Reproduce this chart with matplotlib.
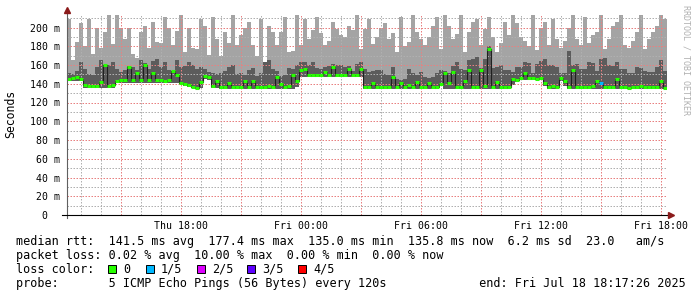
import numpy as np
import pandas as pd
import matplotlib
matplotlib.use("Agg")
import matplotlib.pyplot as plt
import matplotlib.dates as mdates
from matplotlib.patches import Rectangle
from matplotlib.ticker import FixedLocator, MultipleLocator, FuncFormatter

plt.rcParams["font.family"] = "DejaVu Sans Mono"

W, H = 697, 297
START = "2025-07-17 12:17:26"
END = "2025-07-18 18:17:26"

# 12-minute consolidated samples (ms)
MAX_RTT = [
    209, 165, 185, 205, 180, 209, 172, 200, 178, 195, 213, 182, 213, 200, 188, 200, 172, 168, 195,
    202, 178, 206, 185, 184, 211, 200, 181, 196, 213, 174, 200, 178, 177, 209, 202, 171, 211, 188,
    170, 195, 184, 213, 181, 192, 200, 206, 181, 170, 209, 163, 202, 195, 181, 195, 211, 174, 175,
    213, 181, 209, 188, 197, 211, 194, 181, 186, 206, 198, 192, 190, 202, 197, 213, 177, 198,
    209, 182, 190, 200, 205, 188, 194, 174, 211, 180, 185, 213, 195, 188, 181, 190, 202, 211, 177,
    213, 202, 188, 193, 213, 174, 195, 206, 209, 181, 198, 211, 190, 174, 184, 206, 192, 213, 205,
    190, 186, 180, 213, 176, 200, 206, 181, 209, 188, 178, 186, 200, 213, 188, 181, 211, 184, 192,
    195, 213, 177, 188, 202, 206, 213, 181, 178, 186, 195, 213, 177, 188, 195, 202, 213, 209,
]
INNER_HI = [
    152, 150, 154, 163, 156, 150, 149, 158, 165, 160, 160, 163, 156, 153, 155, 159, 158, 155, 165,
    162, 156, 164, 166, 158, 163, 155, 151, 165, 158, 159, 163, 160, 156, 158, 156, 153, 152, 150,
    151, 154, 158, 160, 150, 151, 149, 155, 157, 148, 152, 163, 165, 156, 154, 148, 149, 157, 156,
    160, 163, 163, 160, 163, 157, 156, 158, 159, 161, 160, 160, 158, 159, 154, 161, 163, 156,
    153, 154, 155, 155, 150, 149, 158, 145, 144, 145, 156, 151, 149, 153, 147, 146, 147, 151, 155,
    154, 152, 159, 163, 156, 155, 165, 166, 169, 157, 166, 180, 157, 158, 160, 155, 155, 153, 158,
    158, 163, 162, 151, 161, 164, 166, 160, 160, 158, 151, 151, 175, 160, 161, 156, 156, 163, 162,
    154, 166, 167, 160, 159, 163, 156, 156, 151, 151, 158, 157, 154, 153, 153, 158, 165, 154,
]
MEDIAN = [
    145.5, 146, 147, 145, 139, 138, 137.5, 138, 141.8, 159.6, 138, 138.5, 143, 143.5, 144, 158,
    144, 151, 143.5, 159.9, 144, 151, 143.5, 144, 143, 144, 154, 149, 141, 140, 139, 137, 136, 142,
    148, 147, 138, 143,
    137, 136.5, 141, 137, 136.5, 137, 143, 137, 143, 137, 136.5, 137, 138, 137, 147, 140, 137, 138,
    149, 143, 154.5, 156, 149, 149.5, 149, 149, 152.8, 149, 158, 149.5, 149, 149, 156, 149, 149.5,
    156, 137,
    137, 141, 137, 136.5, 137, 137, 146.8, 137, 141, 137, 139, 137, 142, 137, 136.5, 141, 137, 137,
    140, 151, 141, 152.8, 137, 136.5, 143, 154.5, 137, 137, 154.5, 138, 177.4, 137, 142, 137, 136.5,
    137, 145, 144,
    146, 151, 146, 146.5, 145.5, 146, 141, 137, 137.5, 137, 146, 143, 137, 154.5, 137, 136.5, 137,
    137, 138, 143, 141, 137, 137, 136.5, 145, 137, 137, 135.0, 137, 137, 138, 137, 136.5, 137, 137,
    143, 135.8,
]
MIN_RTT = [
    143, 143, 143, 143, 136, 136, 136, 136, 136, 136, 136, 136, 141, 141, 141, 141, 141, 141, 141,
    141, 141, 141, 141, 141, 141, 141, 141, 141, 139, 138, 137, 135, 134, 135, 145, 144, 135, 135,
    134.5, 134.5, 134.5, 134.5, 134.5, 134.5, 134.5, 134.5, 134.5, 134.5, 134.5, 134.5, 134.5,
    134.5, 134.5, 134.5, 134.5, 134.5, 134.5, 137, 147, 147, 147, 147, 147, 147, 147, 147, 147,
    147, 147, 147, 147, 147, 147, 147, 134.5,
    134.5, 134.5, 134.5, 134.5, 134.5, 134.5, 134.5, 134.5, 134.5, 134.5, 134.5, 134.5, 134.5,
    134.5, 134.5, 134.5, 134.5, 134.5, 138, 134.5, 134.5, 134.5, 134.5, 134.5, 134.5, 134.5, 134.5,
    134.5, 134.5, 134.5, 134.5, 134.5, 134.5, 134.5, 134.5, 134.5, 139, 142,
    144, 144, 144, 144, 144, 144, 138, 134.5, 134.5, 134.5, 143, 138, 134.5, 134.5, 134.5, 134.5,
    134.5, 134.5, 134.5, 134.5, 134.5, 134.5, 134.5, 134.5, 134.5, 134.5, 134.5, 134.5, 134.5,
    134.5, 134.5, 134.5, 134.5, 134.5, 134.5, 134.5, 134.5,
]
LOST = {133: 1}  # sample index -> pings lost

LOSS_LABELS = ["0", "1/5", "2/5", "3/5", "4/5"]
LOSS_COLORS = ["#26ff00", "#00b8ff", "#dd00ff", "#5e00ff", "#ff0000"]
Y_TICKS = [0, 20, 40, 60, 80, 100, 120, 140, 160, 180, 200]

edges = mdates.date2num(pd.date_range(START, END, freq="12min").to_pydatetime())
lo = np.append(MIN_RTT, MIN_RTT[-1])
hi = np.append(MAX_RTT, MAX_RTT[-1])
mid = np.append(INNER_HI, INNER_HI[-1])
med = np.append(MEDIAN, MEDIAN[-1])

fig = plt.figure(figsize=(W / 100, H / 100), dpi=100)
fig.patch.set_facecolor("white")
ax = fig.add_axes([67 / W, 1 - 215 / H, 600 / W, 200 / H])

ax.fill_between(edges, lo, hi, step="post", color="#a4a4a4", lw=0, zorder=1)
ax.fill_between(edges, lo, mid, step="post", color="#5c5c5c", lw=0, zorder=2)
ax.step(edges, med, where="post", color="#202020", lw=0.8, zorder=3)
seg_cols = [LOSS_COLORS[LOST.get(i, 0)] for i in range(len(MEDIAN))]
ax.hlines(MEDIAN, edges[:-1], edges[1:], colors=seg_cols, lw=2.2, zorder=4)

ax.set_xlim(edges[0], edges[-1])
ax.set_ylim(0, 200 / 0.9375)

ax.xaxis.set_major_locator(mdates.HourLocator(byhour=range(0, 24, 3)))
ax.xaxis.set_minor_locator(mdates.HourLocator())


def xfmt(v, pos):
    d = mdates.num2date(v)
    return d.strftime("%a %H:%M") if d.hour % 6 == 0 else ""


ax.xaxis.set_major_formatter(FuncFormatter(xfmt))
ax.yaxis.set_major_locator(FixedLocator(Y_TICKS))
ax.yaxis.set_minor_locator(MultipleLocator(10))
ax.set_yticklabels([f"{t} m" if t else "0  " for t in Y_TICKS])

ax.set_axisbelow(False)
ax.grid(which="minor", color="#b0b0b0", lw=0.72, ls=(0, (1.5, 1.5)), zorder=5)
ax.grid(which="major", color="#e88080", lw=0.72, ls=(0, (1.5, 1.5)), zorder=6)
ax.tick_params(which="both", length=0, labelsize=7.1)
ax.tick_params(axis="x", pad=4.5)
ax.tick_params(axis="y", pad=5)
for s in ax.spines.values():
    s.set_visible(False)

# axis lines with arrow heads
px_t = (edges[-1] - edges[0]) / 600
px_v = 1 / 0.9375
ax.plot([edges[0], edges[0]], [-3 * px_v, 203 * px_v], color="#606060", lw=0.8,
        clip_on=False, zorder=7)
ax.plot([edges[0] - 5 * px_t, edges[-1] + 3 * px_t], [0, 0], color="black", lw=0.8,
        clip_on=False, zorder=7)
ax.plot([edges[0]], [205 * px_v], marker="^", ms=4, color="#8b1a1a", clip_on=False, zorder=8)
ax.plot([edges[-1] + 4 * px_t], [0], marker=">", ms=4, color="#8b1a1a", clip_on=False, zorder=8)


def ftext(x, y, s, **kw):
    fig.text(x / W, 1 - y / H, s, **kw)


ftext(11, 114, "Seconds", rotation=90, ha="center", va="center", fontsize=8.3)
ftext(686, 5, "RRDTOOL / TOBI OETIKER", rotation=270, ha="center", va="top",
      fontsize=6, color="#b0b0b0")

LEG = dict(fontsize=8.5, va="baseline", ha="left")
ftext(16, 245, "median rtt:  141.5 ms avg  177.4 ms max  135.0 ms min  "
               "135.8 ms now  6.2 ms sd  23.0   am/s", **LEG)
ftext(16, 259, "packet loss: 0.02 % avg  10.00 % max  0.00 % min  0.00 % now", **LEG)
ftext(16, 273, "loss color:", **LEG)
ftext(16, 287, "probe:       5 ICMP Echo Pings (56 Bytes) every 120s"
               "             end: Fri Jul 18 18:17:26 2025", **LEG)

box_x = [108, 146, 197, 247, 298]
for bx, lab, col in zip(box_x, LOSS_LABELS, LOSS_COLORS):
    fig.add_artist(Rectangle((bx / W, 1 - 273 / H), 8 / W, 8 / H, transform=fig.transFigure,
                             facecolor=col, edgecolor="black", lw=0.7))
    ftext(bx + 15, 273, lab, **LEG)

fig.savefig("out.png", dpi=100)
